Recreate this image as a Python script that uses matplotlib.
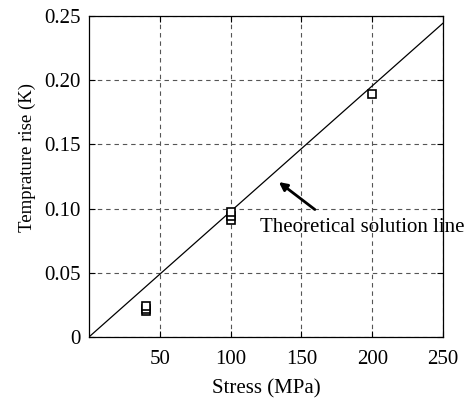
import matplotlib
matplotlib.use("Agg")
import matplotlib.pyplot as plt
import numpy as np

plt.rcParams['font.family'] = ['Liberation Serif', 'DejaVu Serif']

# data
stress_pts = [40, 40, 40, 100, 100, 100, 200]
temp_pts = [0.020, 0.022, 0.024, 0.091, 0.094, 0.097, 0.189]
line_x = [0, 250]
line_y = [0, 0.2445]
xticks = [50, 100, 150, 200, 250]
yticks = [0, 0.05, 0.10, 0.15, 0.20, 0.25]
ytick_labels = ['0', '0.05', '0.10', '0.15', '0.20', '0.25']

fig = plt.figure(figsize=(4.70, 3.98), dpi=100)
ax = fig.add_axes([0.189, 0.153, 0.754, 0.807])
ax.plot(line_x, line_y, color='black', lw=0.9)
ax.plot(stress_pts, temp_pts, linestyle='none', marker='s', markersize=5.5,
        markerfacecolor='white', markeredgecolor='black', markeredgewidth=1.2)
ax.set_xlim(0, 250)
ax.set_ylim(0, 0.25)
ax.set_xticks(xticks)
ax.set_yticks(yticks)
ax.set_yticklabels(ytick_labels)
ax.grid(True, linestyle=(0, (4, 3.5)), color='#555555', lw=0.8)
ax.tick_params(direction='in', top=True, right=True, labelsize=15, length=4)
ax.tick_params(axis='x', pad=9)
ax.tick_params(axis='y', pad=6)
for s in ax.spines.values():
    s.set_linewidth(0.9)
ax.set_xlabel('Stress (MPa)', fontsize=15, labelpad=8)
ax.set_ylabel('Temprature rise (K)', fontsize=13.5, labelpad=6)
ax.yaxis.label.set_y(0.56)
ax.annotate('', xy=(132.5, 0.122), xytext=(161, 0.098),
            arrowprops=dict(arrowstyle='-|>', color='black', lw=2, mutation_scale=12))
ax.text(121, 0.085, 'Theoretical solution line', fontsize=15, va='center', ha='left',
        clip_on=False)
fig.savefig('out.png', dpi=100)
